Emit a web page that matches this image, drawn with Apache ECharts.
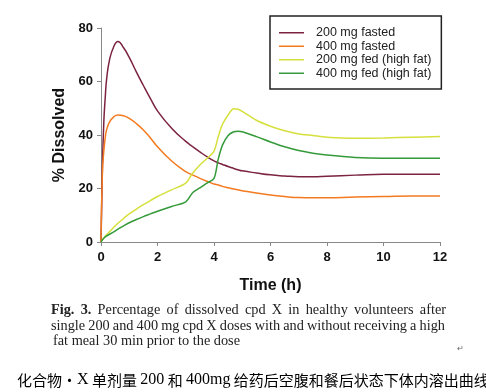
<!DOCTYPE html>
<html><head><meta charset="utf-8">
<script src="https://cdn.jsdelivr.net/npm/echarts@6/dist/echarts.min.js"></script>
<style>html,body{margin:0;padding:0;background:#fff}#c{width:486px;height:392px}</style>
</head><body><div id="c"></div>
<script>
const times = [0, 0.05, 0.1, 0.15, 0.2, 0.3, 0.45, 0.6, 0.8, 1, 1.25, 1.5, 1.75, 2, 2.5, 3, 3.25, 3.5, 3.75, 4, 4.15, 4.3, 4.5, 4.7, 4.85, 5, 5.5, 6, 6.5, 7, 7.5, 8, 9, 10, 11, 12];
const fasted200 = [0, 28, 45, 54, 61, 68, 73, 75, 72.6, 69, 63.6, 58.5, 53.6, 49.0, 42.5, 37.6, 35.6, 33.7, 31.9, 30.3, 29.6, 29, 28.2, 27.5, 27, 26.6, 25.8, 25.1, 24.7, 24.4, 24.4, 24.6, 25, 25.3, 25.3, 25.3];
const fasted400 = [0, 26, 34, 39, 42, 44.8, 46.8, 47.5, 47.2, 46.2, 44.3, 41.9, 38.9, 35.6, 30.3, 26.3, 25, 23.8, 22.7, 21.7, 21.3, 20.8, 20.3, 19.8, 19.5, 19.2, 18.3, 17.6, 17, 16.6, 16.5, 16.5, 16.8, 17, 17.2, 17.2];
const fed200 = [0, 0.8, 1.5, 2.2, 2.8, 3.8, 5.5, 7, 8.8, 10.5, 12.3, 14, 15.5, 17, 19.5, 22, 25.8, 28.8, 31.2, 34, 39.4, 44, 47.5, 49.8, 49.6, 48.8, 45.5, 43.3, 41.6, 40.4, 39.8, 39.2, 38.8, 38.9, 39.2, 39.4];
const fed400 = [0, 0.8, 1.4, 1.9, 2.3, 2.9, 3.8, 4.8, 6, 7.2, 8.4, 9.5, 10.5, 11.5, 13.3, 15, 18.5, 20.2, 22, 23.8, 31, 36.2, 39.8, 41.2, 41.4, 41.2, 39.4, 37.4, 35.6, 34.2, 33.2, 32.5, 31.6, 31.3, 31.3, 31.3];
const seriesNames = ['200 mg fasted', '400 mg fasted', '200 mg fed (high fat)', '400 mg fed (high fat)'];
const seriesColors = ['#7B2340', '#F47A20', '#D6E03C', '#359A3A'];
const xTicks = [0, 2, 4, 6, 8, 10, 12];
const yTicks = [0, 20, 40, 60, 80];
const captionLabel = 'Fig. 3.';
const captionLines = [
  'Percentage of dissolved cpd X in healthy volunteers after',
  'single 200 and 400 mg cpd X doses with and without receiving a high',
  'fat meal 30 min prior to the dose'
];

const allValues = [fasted200, fasted400, fed200, fed400];
const smoothness = [0.5, 0.5, 0.3, 0.3];
const chart = echarts.init(document.getElementById('c'), null, {renderer: 'canvas'});
const sans = 'Liberation Sans, Arial, sans-serif';
const serif = 'Liberation Serif, Times New Roman, serif';
const axisLabelStyle = {color: '#111', fontWeight: 'bold', fontSize: 13, fontFamily: sans};

// justified caption layout (word positions via canvas text measurement)
const capSize = 14.3;
const ctx = document.createElement('canvas').getContext('2d');
function measure(t, bold) { ctx.font = (bold ? 'bold ' : '') + capSize + 'px "Liberation Serif"'; return ctx.measureText(t).width; }
const capGraphics = [];
const capLeft = [51, 51, 53], capRight = [446, 445, null], capTop = [303, 319, 334];
captionLines.forEach((line, li) => {
  const words = line.split(' ').map(w => ({t: w, b: false}));
  if (li === 0) captionLabel.split(' ').reverse().forEach(w => words.unshift({t: w, b: true}));
  const widths = words.map(w => measure(w.t, w.b));
  const total = widths.reduce((a, b) => a + b, 0);
  const space = capRight[li] ? (capRight[li] - capLeft[li] - total) / (words.length - 1) : measure(' ', false);
  let x = capLeft[li];
  words.forEach((w, k) => {
    capGraphics.push({type: 'text', left: x, top: capTop[li], silent: true,
      style: {text: w.t, fontFamily: serif, fontSize: capSize, fontWeight: w.b ? 'bold' : 'normal', fill: '#222'}});
    x += widths[k] + space;
  });
});

const option = {
  animation: false,
  backgroundColor: '#fff',
  grid: {left: 101, right: 46, top: 28, bottom: 150},
  legend: {
    orient: 'vertical', left: 270, top: 16,
    data: seriesNames,
    icon: 'rect', itemWidth: 25, itemHeight: 1.5, itemGap: 0,
    borderColor: '#222', borderWidth: 1.5, padding: [10, 10, 9, 9],
    textStyle: {fontSize: 12.5, lineHeight: 13.5, color: '#222', fontFamily: sans, padding: [0, 0, 0, 7]}
  },
  xAxis: {
    type: 'value', min: 0, max: 12, interval: 2,
    name: 'Time (h)', nameLocation: 'middle', nameGap: 36,
    nameTextStyle: {fontSize: 16, fontWeight: 'bold', color: '#111', fontFamily: sans},
    axisLine: {show: true, lineStyle: {color: '#888', width: 1}},
    axisTick: {show: true, length: 4, lineStyle: {color: '#888'}},
    axisLabel: Object.assign({margin: 9}, axisLabelStyle),
    splitLine: {show: false}
  },
  yAxis: {
    type: 'value', min: 0, max: 80, interval: 20,
    name: '% Dissolved', nameLocation: 'middle', nameGap: 33, nameRotate: 90,
    nameTextStyle: {fontSize: 16, fontWeight: 'bold', color: '#111', fontFamily: sans},
    axisLine: {show: true, lineStyle: {color: '#888', width: 1}},
    axisTick: {show: true, length: 4, lineStyle: {color: '#888'}},
    axisLabel: Object.assign({margin: 8}, axisLabelStyle),
    splitLine: {show: false}
  },
  series: seriesNames.map((n, i) => ({
    name: n, type: 'line', showSymbol: false, smooth: smoothness[i],
    color: seriesColors[i],
    lineStyle: {width: 1.5, color: seriesColors[i]},
    data: times.map((t, k) => [t, allValues[i][k]])
  })),
  graphic: capGraphics.concat([
    {type: 'text', left: 457, top: 345, style: {text: '↵', fontSize: 8, fill: '#666'}},
    {type: 'text', left: 17, top: 372, style: {
      text: '化合物·{s|X} 单剂量 {s|200} 和 {s|400mg} 给药后空腹和餐后状态下体内溶出曲线',
      rich: {s: {fontFamily: serif, fontSize: 16, fill: '#000'}},
      fontFamily: 'Noto Sans CJK SC, sans-serif', fontSize: 15, fill: '#000'}}
  ])
};
chart.setOption(option);
</script></body></html>
